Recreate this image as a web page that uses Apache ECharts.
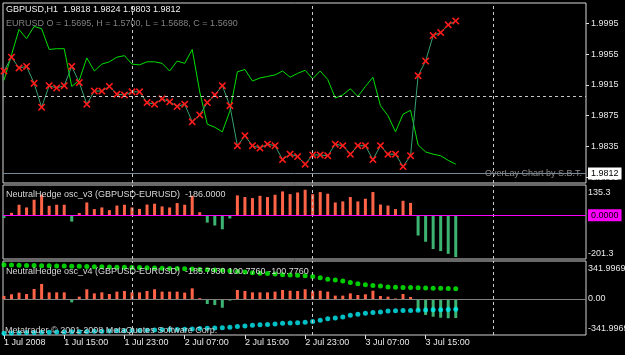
<!DOCTYPE html>
<html><head><meta charset="utf-8">
<script src="https://cdn.jsdelivr.net/npm/echarts@6/dist/echarts.min.js"></script>
<style>html,body{margin:0;padding:0;background:#000;}#c{width:625px;height:355px;}</style>
</head><body><div id="c"></div>
<script>
// ---- data ----
const tickLabels = ['1 Jul 2008','1 Jul 15:00','1 Jul 23:00','2 Jul 07:00','2 Jul 15:00','2 Jul 23:00','3 Jul 07:00','3 Jul 15:00'];
const tickBars = [0,8,16,24,32,40,48,56];
const gridBars = [17,41,65];
const priceTicks = [1.9795,1.9835,1.9875,1.9915,1.9955,1.9995];
const bidPrice = 1.9812;
const priceGridLevel = 1.9897;
const gbpusd = [1.9921,1.9954,1.9987,1.9975,1.9991,1.9988,1.9961,1.9962,1.9962,1.9913,
  1.9921,1.9950,1.9933,1.9942,1.9945,1.9951,1.9953,1.9942,1.9941,1.9945,
  1.9945,1.9943,1.9933,1.9946,1.9943,1.9961,1.9906,1.9864,1.9860,1.9854,
  1.9881,1.9932,1.9935,1.9920,1.9924,1.9926,1.9928,1.9933,1.9925,1.9930,
  1.9934,1.9923,1.9933,1.9922,1.9898,1.9902,1.9910,1.9900,1.9913,1.9925,
  1.9888,1.9875,1.9854,1.9877,1.9882,1.9837,1.9828,1.9825,1.9823,1.9817,1.9812];
const eurusdOverlay = [1.9933,1.9951,1.9937,1.9939,1.9917,1.9886,1.9914,1.9911,1.9914,1.9939,
  1.9918,1.9890,1.9907,1.9907,1.9913,1.9903,1.9902,1.9906,1.9906,1.9892,
  1.9890,1.9897,1.9893,1.9887,1.9890,1.9867,1.9876,1.9892,1.9902,1.9914,
  1.9888,1.9836,1.9849,1.9836,1.9833,1.9838,1.9836,1.9818,1.9825,1.9822,
  1.9812,1.9824,1.9824,1.9823,1.9838,1.9836,1.9825,1.9836,1.9836,1.9818,
  1.9836,1.9825,1.9825,1.9809,1.9823,1.9927,1.9946,1.9979,1.9983,1.9993,1.9998];
const oscV3 = [-14,11,50,37,74,98,45,50,50,-31,
  10,61,29,37,24,46,50,37,30,51,
  55,42,37,58,50,93,14,-36,-50,-68,
  -16,95,87,82,93,87,98,114,101,109,
  122,101,111,103,61,66,87,66,79,111,
  51,46,29,69,59,-98,-128,-163,-173,-186,-201.3];
const oscV4 = [30,46,62,49,98,147,65,65,65,-33,
  23,95,55,65,49,72,78,65,65,78,
  95,72,72,72,62,104,8,-49,-59,-85,
  -16,88,78,65,65,65,72,88,81,78,
  95,75,81,72,33,33,55,39,46,81,
  29,23,5,49,20,-114,-156,-173,-183,-188,-185.793];
const bandUpper = [335,332,330,328,327,326,324,323,322,321,
  320,318,316,314,312,311,310,309,307,305,
  303,301,299,297,295,292,289,287,284,280,
  276,268,263,257,252,248,244,238,235,231,
  226,220,208,193,186,176,160,150,140,131,
  127,118,114,113,112,110,107,105,104,102,100.776];
const bandLower = [-335,-332,-330,-328,-327,-326,-324,-323,-322,-321,
  -320,-318,-316,-314,-312,-311,-310,-309,-307,-305,
  -303,-301,-299,-297,-295,-292,-289,-287,-284,-280,
  -276,-268,-263,-257,-252,-248,-244,-238,-235,-231,
  -226,-220,-208,-193,-186,-176,-160,-150,-140,-131,
  -127,-118,-114,-113,-112,-110,-107,-105,-104,-102,-100.776];
const osc3Scale = [135.3, -201.3];
const osc4Scale = [341.9969, -341.9969];

// ---- chart ----
const FONT = '"Liberation Sans", Arial, sans-serif';
const FS = 9;
const idx = a => a.map((v,i)=>[i,v]);
const xMin = -0.13, xMax = 77.3;
const dash = {color:'#c8c8c8', type:[3,3], width:1};
const vLines = gridBars.map(b=>({xAxis:b, lineStyle:dash}));
const xSym = 'path://M0,1.5 L1.5,0 L5,3.5 L8.5,0 L10,1.5 L6.5,5 L10,8.5 L8.5,10 L5,6.5 L1.5,10 L0,8.5 L3.5,5 Z';

function xAxisFor(g, showLabels){
  return {gridIndex:g, type:'value', min:xMin, max:xMax, position:'bottom',
    axisLine:{show:false, onZero:false}, splitLine:{show:false},
    axisTick: showLabels ? {show:true, customValues:tickBars, length:4, lineStyle:{color:'#e0e0e0'}} : {show:false},
    axisLabel: showLabels ? {show:true, customValues:tickBars, align:'left', margin:3,
      color:'#e8e8e8', fontSize:FS, fontFamily:FONT,
      formatter: v => tickLabels[tickBars.indexOf(v)] || ''} : {show:false}};
}
const gridBase = {left:3, width:583, show:true, borderWidth:1, outerBoundsMode:'none', containLabel:false};

const chart = echarts.init(document.getElementById('c'), null, {renderer:'canvas'});
chart.setOption({
  backgroundColor:'#000',
  animation:false,
  grid:[
    Object.assign({}, gridBase, {top:3, height:180, borderColor:'#d8d8d8'}),
    Object.assign({}, gridBase, {top:185, height:74, borderColor:'#d0d0d0'}),
    Object.assign({}, gridBase, {top:261, height:74, borderColor:'#d0d0d0'})
  ],
  xAxis:[xAxisFor(0,false), xAxisFor(1,false), xAxisFor(2,true)],
  yAxis:[
    {gridIndex:0, type:'value', position:'right', min:1.97876, max:2.002136,
      splitLine:{show:false}, axisLine:{show:false, onZero:false},
      axisTick:{show:true, customValues:priceTicks, length:3, lineStyle:{color:'#e0e0e0'}},
      axisLabel:{customValues:priceTicks, margin:5, color:'#e8e8e8', fontSize:FS, fontFamily:FONT,
        formatter:v=>v.toFixed(4)}},
    {gridIndex:1, type:'value', position:'right', min:-210.92, max:144.92,
      splitLine:{show:false}, axisLine:{show:false, onZero:false}, axisTick:{show:false},
      axisLabel:{customValues:[osc3Scale[1],0,osc3Scale[0]], margin:2, color:'#e8e8e8', fontSize:FS, fontFamily:FONT,
        formatter:v=> v===0 ? '{z|0.0000}' : (v>0 ? '{t|'+v.toFixed(1)+'}' : '{b|'+v.toFixed(1)+'}'),
        rich:{
          t:{padding:[11,0,0,0], fontSize:FS, fontFamily:FONT, color:'#e8e8e8'},
          b:{padding:[0,0,7,0], fontSize:FS, fontFamily:FONT, color:'#e8e8e8'},
          z:{backgroundColor:'#ff00ff', color:'#000', padding:[2,3,1,3], fontSize:FS, fontFamily:FONT}
        }}},
    {gridIndex:2, type:'value', position:'right', min:-351.77, max:371.3,
      splitLine:{show:false}, axisLine:{show:false, onZero:false}, axisTick:{show:false},
      axisLabel:{customValues:[osc4Scale[1],0,osc4Scale[0]], margin:2, color:'#e8e8e8', fontSize:FS, fontFamily:FONT,
        formatter:v=> v===0 ? '0.00' : (v>0 ? '{t|'+v.toFixed(4)+'}' : '{b|'+v.toFixed(4)+'}'),
        rich:{
          t:{padding:[9,0,0,0], fontSize:FS, fontFamily:FONT, color:'#e8e8e8'},
          b:{padding:[0,0,10,0], fontSize:FS, fontFamily:FONT, color:'#e8e8e8'}
        }}}
  ],
  series:[
    {type:'line', xAxisIndex:0, yAxisIndex:0, data:[], silent:true,
      markLine:{silent:true, symbol:'none', animation:false, label:{show:false},
        data:[...vLines, {yAxis:priceGridLevel, lineStyle:dash},
          {yAxis:bidPrice, lineStyle:{color:'#778899', type:'solid', width:1},
           label:{show:true, position:'end', distance:2, formatter:bidPrice.toFixed(4),
             backgroundColor:'#ffffff', color:'#000', padding:[2,3,1,3], fontSize:FS, fontFamily:FONT}}]}},
    {name:'GBPUSD', type:'line', xAxisIndex:0, yAxisIndex:0, data:idx(gbpusd),
      showSymbol:false, symbol:'none', lineStyle:{color:'#00e000', width:1}},
    {name:'EURUSD', type:'line', xAxisIndex:0, yAxisIndex:0, data:idx(eurusdOverlay),
      symbol:xSym, symbolSize:7.5, showSymbol:true,
      lineStyle:{color:'#38a070', width:1}, itemStyle:{color:'#ff1a1a'}},
    {type:'line', xAxisIndex:1, yAxisIndex:1, data:[], silent:true,
      markLine:{silent:true, symbol:'none', animation:false, label:{show:false},
        data:[...vLines]}},
    {type:'bar', xAxisIndex:1, yAxisIndex:1, data:idx(oscV3), barWidth:3,
      itemStyle:{color:p=>p.value[1]>=0?'#ff6347':'#3cb371'},
      markLine:{silent:true, symbol:'none', animation:false, label:{show:false},
        data:[{yAxis:0, lineStyle:{color:'#ff00ff', type:'solid', width:1}}]}},
    {type:'line', xAxisIndex:2, yAxisIndex:2, data:[], silent:true,
      markLine:{silent:true, symbol:'none', animation:false, label:{show:false},
        data:[...vLines, {yAxis:0, lineStyle:{color:'#808080', type:'solid', width:1}}]}},
    {type:'bar', xAxisIndex:2, yAxisIndex:2, data:idx(oscV4), barWidth:3,
      itemStyle:{color:p=>p.value[1]>=0?'#ff6347':'#3cb371'}},
    {type:'scatter', xAxisIndex:2, yAxisIndex:2, data:idx(bandUpper), symbolSize:5,
      itemStyle:{color:'#00ff00'}},
    {type:'scatter', xAxisIndex:2, yAxisIndex:2, data:idx(bandLower), symbolSize:5,
      itemStyle:{color:'#00f0f8'}}
  ],
  graphic:[
    {type:'text', left:6, top:5, z:100, style:{text:'GBPUSD,H1  1.9818 1.9824 1.9803 1.9812', fill:'#f0f0f0', font:FS+'px '+FONT}},
    {type:'text', left:6, top:19, z:100, style:{text:'EURUSD O = 1.5695, H = 1.5700, L = 1.5688, C = 1.5690', fill:'#808080', font:FS+'px '+FONT}},
    {type:'text', right:43, top:169, z:100, style:{text:'OverLay Chart by S.B.T.', fill:'#8c8c8c', font:FS+'px '+FONT}},
    {type:'text', left:6, top:190, z:100, style:{text:'NeutralHedge osc_v3 (GBPUSD-EURUSD)  -186.0000', fill:'#d8d8d8', font:FS+'px '+FONT}},
    {type:'text', left:6, top:267, z:100, style:{text:'NeutralHedge osc_v4 (GBPUSD-EURUSD)  -185.7930 100.7760 -100.7760', fill:'#d8d8d8', font:FS+'px '+FONT}},
    {type:'text', left:5, top:326, z:100, style:{text:'Metatrader © 2001-2008 MetaQuotes Software Corp.', fill:'#d0d0d0', font:FS+'px '+FONT}}
  ]
});
</script></body></html>
